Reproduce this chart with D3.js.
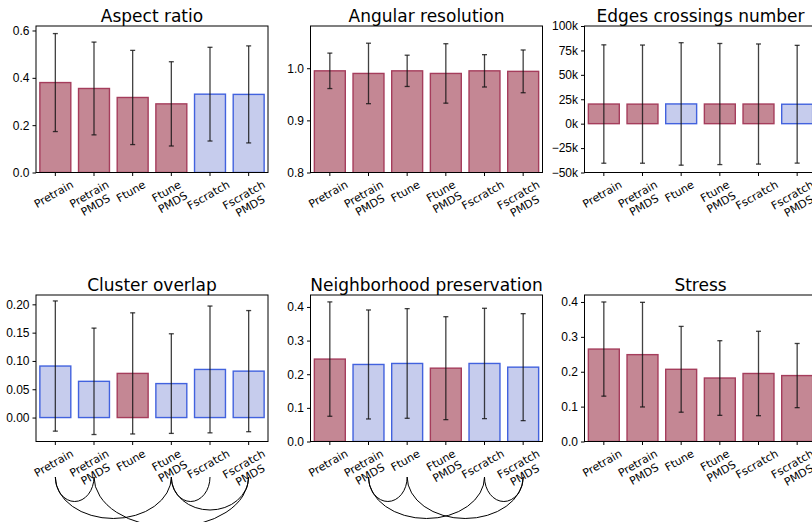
<!DOCTYPE html>
<html>
<head>
<meta charset="utf-8">
<script src="https://cdn.jsdelivr.net/npm/d3@7"></script>
<style>
  body { margin: 0; background: #fff; }
  svg { display: block; font-family: "DejaVu Sans", sans-serif; }
</style>
</head>
<body>
<div id="chart-area"></div>
<script>
// methods on the x axis (same for every panel)
const methods = ["Pretrain", "Pretrain\nPMDS", "Ftune", "Ftune\nPMDS", "Fscratch", "Fscratch\nPMDS"]

// mean and std per metric, plus which colour group each bar falls in (0 = red, 1 = blue)
const aspectMean = [0.380, 0.355, 0.317, 0.290, 0.331, 0.330]
const aspectErr = [0.207, 0.196, 0.199, 0.178, 0.198, 0.205]
const aspectGroup = [0, 0, 0, 0, 1, 1]

const angularMean = [0.995, 0.990, 0.995, 0.990, 0.995, 0.994]
const angularErr = [0.034, 0.058, 0.030, 0.057, 0.031, 0.041]
const angularGroup = [0, 0, 0, 0, 0, 0]

const crossMean = [20100, 20000, 20200, 20100, 20100, 19900]
const crossErr = [60600, 60500, 62700, 62000, 61500, 60300]
const crossGroup = [0, 0, 1, 0, 0, 1]

const overlapMean = [0.091, 0.064, 0.078, 0.060, 0.085, 0.082]
const overlapErr = [0.115, 0.094, 0.107, 0.088, 0.112, 0.107]
const overlapGroup = [1, 1, 0, 1, 1, 1]

const neighMean = [0.245, 0.229, 0.232, 0.218, 0.232, 0.221]
const neighErr = [0.170, 0.162, 0.163, 0.153, 0.164, 0.159]
const neighGroup = [0, 1, 1, 0, 1, 1]

const stressMean = [0.265, 0.249, 0.207, 0.182, 0.195, 0.189]
const stressErr = [0.135, 0.150, 0.123, 0.107, 0.121, 0.092]
const stressGroup = [0, 0, 0, 0, 0, 0]

// pairs of methods joined by arcs under the panels
const overlapArcs = [[0, 1], [0, 3], [1, 5], [3, 4], [3, 5]]
const neighArcs = [[1, 2], [4, 5], [1, 4], [2, 5]]

// y tick values
const aspectTicks = [0, 0.2, 0.4, 0.6]
const angularTicks = [0.8, 0.9, 1.0]
const crossTicks = [-50000, -25000, 0, 25000, 50000, 75000, 100000]
const overlapTicks = [0, 0.05, 0.10, 0.15, 0.20]
const neighTicks = [0, 0.1, 0.2, 0.3, 0.4]
const stressTicks = [0, 0.1, 0.2, 0.3, 0.4]

const kFormat = d => d3.format("d")(d / 1000) + "k"

const panels = [
  { title: "Aspect ratio", mean: aspectMean, err: aspectErr, group: aspectGroup, domain: [0, 0.619], ticks: aspectTicks, fmt: d3.format(".1f") },
  { title: "Angular resolution", mean: angularMean, err: angularErr, group: angularGroup, domain: [0.8, 1.081], ticks: angularTicks, fmt: d3.format(".1f") },
  { title: "Edges crossings number", mean: crossMean, err: crossErr, group: crossGroup, domain: [-50000, 100000], ticks: crossTicks, fmt: kFormat },
  { title: "Cluster overlap", mean: overlapMean, err: overlapErr, group: overlapGroup, domain: [-0.0423, 0.2165], ticks: overlapTicks, fmt: d3.format(".2f"), arcs: overlapArcs },
  { title: "Neighborhood preservation", mean: neighMean, err: neighErr, group: neighGroup, domain: [0, 0.4355], ticks: neighTicks, fmt: d3.format(".1f"), arcs: neighArcs },
  { title: "Stress", mean: stressMean, err: stressErr, group: stressGroup, domain: [0, 0.42], ticks: stressTicks, fmt: d3.format(".1f") }
]

const WIDTH = 812
const HEIGHT = 522
const PANEL_W = 232
const PANEL_H = 146.5
const COL_X = [36, 310.5, 584.5]
const ROW_Y = [26, 295]
const ARC_TOP = 477

const FILL = ["#c48794", "#c6cced"]
const EDGE = ["#a53d5c", "#4262de"]

const svg = d3.select("#chart-area").append("svg")
  .attr("width", WIDTH)
  .attr("height", HEIGHT)

panels.forEach((p, k) => {
  const left = COL_X[k % 3]
  const top = ROW_Y[Math.floor(k / 3)]
  const g = svg.append("g")
    .attr("transform", `translate(${left}, ${top})`)

  const x = d3.scaleBand()
    .domain(d3.range(methods.length))
    .range([0, PANEL_W])
    .paddingInner(0.2)
    .paddingOuter(0.1)
  const y = d3.scaleLinear()
    .domain(p.domain)
    .range([PANEL_H, 0])
  const cx = i => x(i) + x.bandwidth() / 2

  // clip bars to the axes box
  g.append("clipPath")
    .attr("id", "clip" + k)
    .append("rect")
    .attr("width", PANEL_W)
    .attr("height", PANEL_H)

  g.append("g")
    .attr("clip-path", `url(#clip${k})`)
    .selectAll("rect")
    .data(p.mean)
    .join("rect")
    .attr("x", (d, i) => x(i))
    .attr("width", x.bandwidth())
    .attr("y", d => y(Math.max(d, 0)))
    .attr("height", d => Math.abs(y(0) - y(d)))
    .attr("fill", (d, i) => FILL[p.group[i]])
    .attr("stroke", (d, i) => EDGE[p.group[i]])
    .attr("stroke-width", 1.4)

  // error bars
  const eb = g.append("g")
    .attr("stroke", "#111")
    .attr("stroke-opacity", 0.8)
    .attr("stroke-width", 1.3)
  p.mean.forEach((m, i) => {
    const hi = y(m + p.err[i])
    const lo = y(m - p.err[i])
    eb.append("line").attr("x1", cx(i)).attr("x2", cx(i)).attr("y1", hi).attr("y2", lo)
    eb.append("line").attr("x1", cx(i) - 2.5).attr("x2", cx(i) + 2.5).attr("y1", hi).attr("y2", hi)
    eb.append("line").attr("x1", cx(i) - 2.5).attr("x2", cx(i) + 2.5).attr("y1", lo).attr("y2", lo)
  })

  // axes
  const yAxis = g.append("g")
    .call(d3.axisLeft(y).tickValues(p.ticks).tickFormat(p.fmt).tickSize(3.5).tickPadding(3))
  yAxis.select(".domain").remove()
  yAxis.selectAll("text")
    .style("font-size", "12px")
    .attr("fill", "#000")

  const xAxis = g.append("g")
    .attr("transform", `translate(0, ${PANEL_H})`)
    .call(d3.axisBottom(x).tickFormat("").tickSize(3.5))
  xAxis.select(".domain").remove()

  g.append("rect")
    .attr("width", PANEL_W)
    .attr("height", PANEL_H)
    .attr("fill", "none")
    .attr("stroke", "#000")
    .attr("stroke-width", 1)

  // rotated x labels, centred under each tick
  const ang = -30 * Math.PI / 180
  methods.forEach((m, i) => {
    const lg = g.append("g")
    const t = lg.append("text")
      .attr("text-anchor", "middle")
      .style("font-size", "11px")
    m.split("\n").forEach((line, j) => {
      t.append("tspan").attr("x", 0).attr("dy", j ? "1.15em" : 0).text(line)
    })
    const b = t.node().getBBox()
    const pts = [[b.x, b.y], [b.x + b.width, b.y], [b.x, b.y + b.height], [b.x + b.width, b.y + b.height]]
      .map(([u, v]) => [u * Math.cos(ang) - v * Math.sin(ang), u * Math.sin(ang) + v * Math.cos(ang)])
    const midX = (d3.min(pts, d => d[0]) + d3.max(pts, d => d[0])) / 2
    const minY = d3.min(pts, d => d[1])
    lg.attr("transform", `translate(${cx(i) - 1.5 - midX}, ${PANEL_H + 5.5 - minY}) rotate(-30)`)
  })

  // title
  g.append("text")
    .attr("x", PANEL_W / 2)
    .attr("y", -4.5)
    .attr("text-anchor", "middle")
    .style("font-size", "17px")
    .text(p.title)

  // significance arcs
  if (p.arcs) {
    const y0 = ARC_TOP - top
    p.arcs.forEach(([a, b]) => {
      const x1 = cx(a), x2 = cx(b)
      const rx = (x2 - x1) / 2
      const ry = 16 + 8.5 * (b - a)
      g.append("path")
        .attr("d", `M${x1},${y0} A${rx},${ry} 0 0 0 ${x2},${y0}`)
        .attr("fill", "none")
        .attr("stroke", "#000")
        .attr("stroke-width", 1)
    })
  }
})
</script>
</body>
</html>
